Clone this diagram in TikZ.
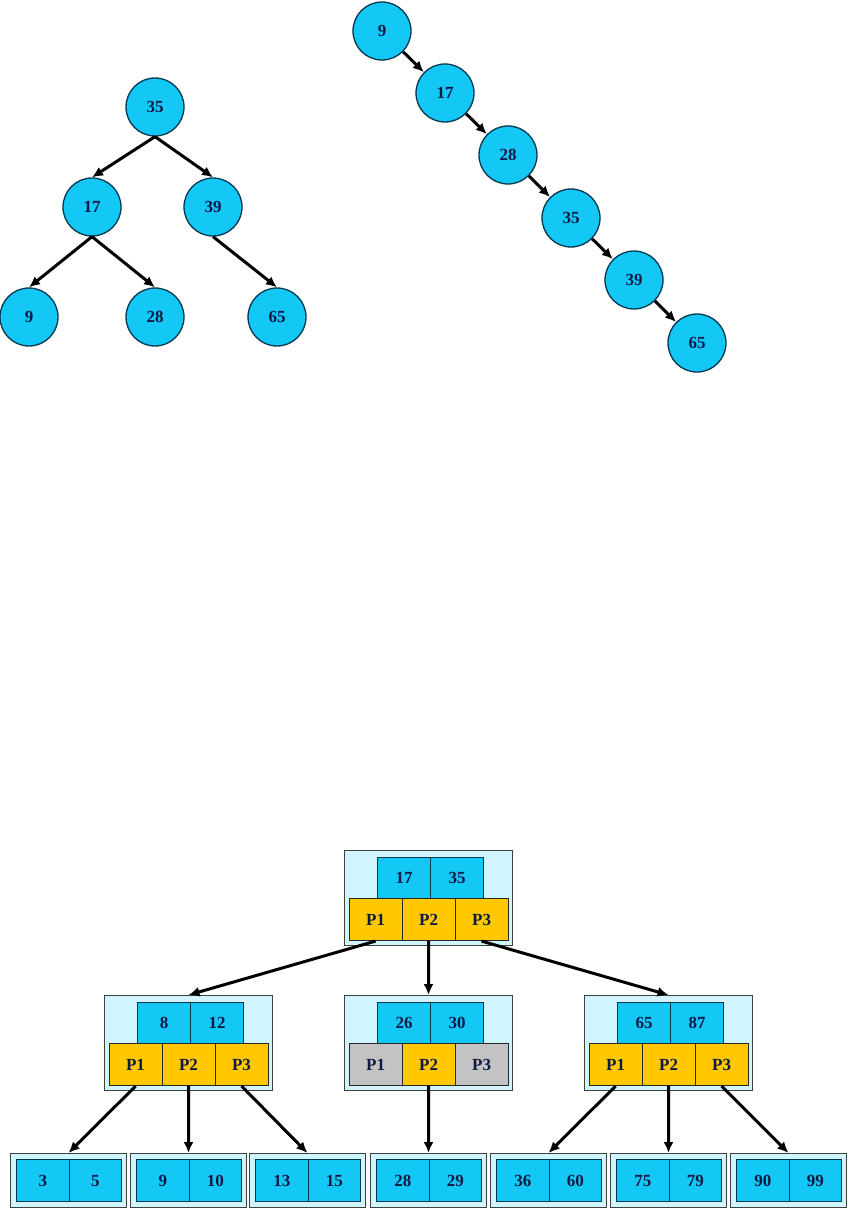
\documentclass[tikz,border=0pt]{standalone}
\usepackage{fontspec}
\setmainfont{Liberation Serif}
\usetikzlibrary{arrows.meta}
\definecolor{sky}{RGB}{20,200,245}
\definecolor{skyline}{RGB}{0,55,80}
\definecolor{ink}{RGB}{15,25,70}
\definecolor{gold}{RGB}{255,200,0}
\definecolor{pale}{RGB}{208,245,255}
\definecolor{ash}{RGB}{195,195,195}

\begin{document}
\begin{tikzpicture}[x=1pt, y=-1pt,
    font=\fontsize{17}{19}\selectfont\bfseries,
    >={Latex[length=11pt,width=10pt]},
    ball/.style={circle, draw=skyline, line width=1.3pt, fill=sky, text=ink,
                 minimum size=58pt, inner sep=0pt},
    box/.style={draw=black!75, line width=1pt, fill=pale, anchor=north west, inner sep=0pt},
    key/.style={draw=skyline, line width=1.1pt, fill=sky, text=ink, anchor=north west,
                minimum width=53pt, minimum height=41pt, inner sep=0pt},
    ptr/.style={draw=black!85, line width=1.1pt, fill=gold, text=ink, anchor=north west,
                minimum width=53pt, minimum height=42pt, inner sep=0pt},
    leafkey/.style={key, minimum width=52.5pt, minimum height=42pt},
    link/.style={->, line width=3pt}]
  \useasboundingbox (0,0) rectangle (865,1209);

  % balanced tree
  \node[ball] (t35) at (155,107) {35};
  \node[ball] (t17) at (92,207) {17};
  \node[ball] (t39) at (213,207) {39};
  \node[ball] (t9) at (29,317) {9};
  \node[ball] (t28) at (155,317) {28};
  \node[ball] (t65) at (277,317) {65};
  \draw[link] (t35.south) -- (t17.north);
  \draw[link] (t35.south) -- (t39.north);
  \draw[link] (t17.south) -- (t9.north);
  \draw[link] (t17.south) -- (t28.north);
  \draw[link] (t39.south) -- (t65.north);

  % degenerate chain
  \node[ball] (c9) at (382,31) {9};
  \node[ball] (c17) at (445,93) {17};
  \node[ball] (c28) at (508,155) {28};
  \node[ball] (c35) at (571,218) {35};
  \node[ball] (c39) at (634,280) {39};
  \node[ball] (c65) at (697,343) {65};
  \draw[link] (c9) -- (c17);
  \draw[link] (c17) -- (c28);
  \draw[link] (c28) -- (c35);
  \draw[link] (c35) -- (c39);
  \draw[link] (c39) -- (c65);

  % B-tree, root
  \node[box, minimum width=168pt, minimum height=95pt] (root) at (344,850) {};
  \node[key] (root-k1) at (377,857) {17};
  \node[key] (root-k2) at (430,857) {35};
  \node[ptr] (root-p1) at (348.5,898) {P1};
  \node[ptr] (root-p2) at (401.5,898) {P2};
  \node[ptr] (root-p3) at (454.5,898) {P3};

  % second level
  \node[box, minimum width=168pt, minimum height=95pt] (left) at (104,995) {};
  \node[key] (left-k1) at (137,1002) {8};
  \node[key] (left-k2) at (190,1002) {12};
  \node[ptr] (left-p1) at (108.5,1043) {P1};
  \node[ptr] (left-p2) at (161.5,1043) {P2};
  \node[ptr] (left-p3) at (214.5,1043) {P3};

  \node[box, minimum width=168pt, minimum height=95pt] (mid) at (344,995) {};
  \node[key] (mid-k1) at (377,1002) {26};
  \node[key] (mid-k2) at (430,1002) {30};
  \node[ptr, fill=ash] (mid-p1) at (348.5,1043) {P1};
  \node[ptr] (mid-p2) at (401.5,1043) {P2};
  \node[ptr, fill=ash] (mid-p3) at (454.5,1043) {P3};

  \node[box, minimum width=168pt, minimum height=95pt] (right) at (584,995) {};
  \node[key] (right-k1) at (617,1002) {65};
  \node[key] (right-k2) at (670,1002) {87};
  \node[ptr] (right-p1) at (588.5,1043) {P1};
  \node[ptr] (right-p2) at (641.5,1043) {P2};
  \node[ptr] (right-p3) at (694.5,1043) {P3};

  % leaves
  \node[box, minimum width=116pt, minimum height=54pt] (leaf1) at (10,1153) {};
  \node[leafkey] (leaf1-a) at (16,1159) {3};
  \node[leafkey] (leaf1-b) at (68.5,1159) {5};
  \node[box, minimum width=116pt, minimum height=54pt] (leaf2) at (130,1153) {};
  \node[leafkey] (leaf2-a) at (136,1159) {9};
  \node[leafkey] (leaf2-b) at (188.5,1159) {10};
  \node[box, minimum width=116pt, minimum height=54pt] (leaf3) at (249,1153) {};
  \node[leafkey] (leaf3-a) at (255,1159) {13};
  \node[leafkey] (leaf3-b) at (307.5,1159) {15};
  \node[box, minimum width=116pt, minimum height=54pt] (leaf4) at (370,1153) {};
  \node[leafkey] (leaf4-a) at (376,1159) {28};
  \node[leafkey] (leaf4-b) at (428.5,1159) {29};
  \node[box, minimum width=116pt, minimum height=54pt] (leaf5) at (490,1153) {};
  \node[leafkey] (leaf5-a) at (496,1159) {36};
  \node[leafkey] (leaf5-b) at (548.5,1159) {60};
  \node[box, minimum width=116pt, minimum height=54pt] (leaf6) at (610,1153) {};
  \node[leafkey] (leaf6-a) at (616,1159) {75};
  \node[leafkey] (leaf6-b) at (668.5,1159) {79};
  \node[box, minimum width=116pt, minimum height=54pt] (leaf7) at (730,1153) {};
  \node[leafkey] (leaf7-a) at (736,1159) {90};
  \node[leafkey] (leaf7-b) at (788.5,1159) {99};

  \draw[link] (root-p1.south) -- (left.north);
  \draw[link] (root-p2.south) -- (mid.north);
  \draw[link] (root-p3.south) -- (right.north);
  \draw[link] (left-p1.south) -- (leaf1.north);
  \draw[link] (left-p2.south) -- (leaf2.north);
  \draw[link] (left-p3.south) -- (leaf3.north);
  \draw[link] (mid-p2.south) -- (leaf4.north);
  \draw[link] (right-p1.south) -- (leaf5.north);
  \draw[link] (right-p2.south) -- (leaf6.north);
  \draw[link] (right-p3.south) -- (leaf7.north);
\end{tikzpicture}
\end{document}
